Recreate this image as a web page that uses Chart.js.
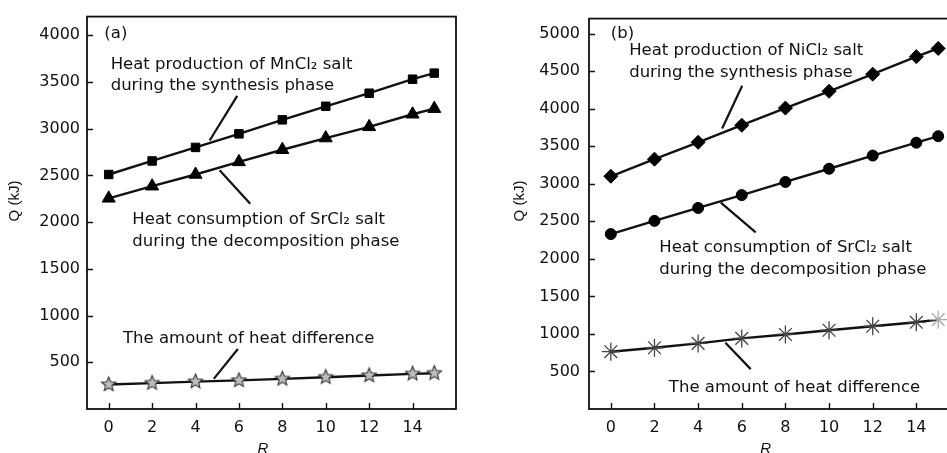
<!DOCTYPE html>
<html>
<head>
<meta charset="utf-8">
<script src="https://cdn.jsdelivr.net/npm/chart.js@4.4.0/dist/chart.umd.min.js"></script>
<style>
  html, body { margin: 0; padding: 0; background: #fff; width: 947px; height: 453px; overflow: hidden; }
  #wrapA { position: absolute; left: 0; top: 0; width: 470px; height: 453px; }
  #wrapB { position: absolute; left: 477px; top: 0; width: 500px; height: 453px; }
</style>
</head>
<body>
<div id="wrapA"><canvas id="chartA" width="470" height="453"></canvas></div>
<div id="wrapB"><canvas id="chartB" width="500" height="453"></canvas></div>
<script>
// R values (x axis)
const rValues = [0, 2, 4, 6, 8, 10, 12, 14, 15];

// panel (a)
const mnCl2Heat  = [2510, 2655, 2800, 2945, 3095, 3240, 3380, 3530, 3595];
const srCl2HeatA = [2255, 2385, 2510, 2645, 2775, 2900, 3020, 3155, 3215];
const heatDiffA  = [262, 277, 293, 306, 322, 340, 358, 376, 383];

// panel (b)
const niCl2Heat  = [3100, 3328, 3552, 3780, 4008, 4232, 4460, 4693, 4802];
const srCl2HeatB = [2330, 2506, 2678, 2849, 3024, 3200, 3376, 3547, 3634];
const heatDiffB  = [763, 816, 874, 940, 993, 1049, 1102, 1155, 1190];

// tick labels
const xTickValues = [0, 2, 4, 6, 8, 10, 12, 14];
const yTicksA = [500, 1000, 1500, 2000, 2500, 3000, 3500, 4000];
const yTicksB = [500, 1000, 1500, 2000, 2500, 3000, 3500, 4000, 4500, 5000];

const textFont = '"DejaVu Sans", sans-serif';
const ink = '#111';

function pts(ys) {
    return rValues.map((r, i) => ({ x: r, y: ys[i] }));
}

// 5-point star marker
function starMarker(outer, inner) {
    const c = document.createElement('canvas');
    const s = Math.ceil(outer * 2 + 4);
    c.width = s; c.height = s;
    const g = c.getContext('2d');
    g.beginPath();
    for (let i = 0; i < 10; i++) {
        const a = -Math.PI / 2 + i * Math.PI / 5;
        const r = i % 2 ? inner : outer;
        const px = s / 2 + r * Math.cos(a), py = s / 2 + r * Math.sin(a);
        if (i === 0) g.moveTo(px, py); else g.lineTo(px, py);
    }
    g.closePath();
    g.fillStyle = '#bdbdbd';
    g.fill();
    g.strokeStyle = '#333';
    g.lineWidth = 1.1;
    g.stroke();
    return c;
}

// frame, inner ticks, notes and axis titles
function makeDecor(cfg) {
    return {
        id: 'decor',
        afterDraw(chart) {
            const { ctx, chartArea: a, scales: { x, y } } = chart;
            const px = v => x.getPixelForValue(v);
            const py = v => y.getPixelForValue(v);
            ctx.save();
            ctx.strokeStyle = ink;
            ctx.lineWidth = 1.8;
            ctx.strokeRect(a.left, a.top, a.right - a.left, a.bottom - a.top);

            ctx.lineWidth = 1.4;
            ctx.beginPath();
            cfg.yTicks.forEach(v => {
                const t = Math.round(py(v)) + 0.5;
                ctx.moveTo(a.left, t); ctx.lineTo(a.left + 6, t);
            });
            xTickValues.forEach(v => {
                const t = Math.round(px(v)) + 0.5;
                ctx.moveTo(t, a.bottom); ctx.lineTo(t, a.bottom - 6);
            });
            ctx.stroke();

            ctx.fillStyle = ink;
            ctx.textAlign = 'left';
            ctx.textBaseline = 'middle';
            ctx.font = '16.5px ' + textFont;
            cfg.notes.forEach(n => ctx.fillText(n.text, px(n.x), py(n.y)));

            ctx.lineWidth = 2.2;
            cfg.leaders.forEach(l => {
                ctx.beginPath();
                ctx.moveTo(px(l[0]), py(l[1]));
                ctx.lineTo(px(l[2]), py(l[3]));
                ctx.stroke();
            });

            // axis titles
            ctx.textAlign = 'center';
            ctx.font = 'italic 15px "Liberation Sans", Arial, sans-serif';
            ctx.fillText('R', px(7.1), 449);
            ctx.translate(cfg.titleX, 201);
            ctx.rotate(-Math.PI / 2);
            ctx.font = '15px "Liberation Sans", Arial, sans-serif';
            ctx.fillText('Q (kJ)', 0, 0);
            ctx.restore();
        }
    };
}

function buildChart(id, datasets, yMax, yTicks, axisWidth, padRight, decor) {
    return new Chart(document.getElementById(id), {
        type: 'line',
        data: { datasets: datasets },
        options: {
            responsive: false,
            animation: false,
            layout: { padding: { top: 14, right: padRight, left: 0, bottom: 0 } },
            scales: {
                x: {
                    type: 'linear',
                    min: -1,
                    max: 16,
                    grid: { display: false, drawTicks: false },
                    border: { display: false },
                    afterBuildTicks: s => { s.ticks = xTickValues.map(v => ({ value: v })); },
                    afterFit: s => { s.height = 44; },
                    ticks: {
                        color: ink, padding: 9, font: { family: textFont, size: 16 },
                        callback: v => String(v)
                    }
                },
                y: {
                    min: 0,
                    max: yMax,
                    grid: { display: false, drawTicks: false },
                    border: { display: false },
                    afterBuildTicks: s => { s.ticks = yTicks.map(v => ({ value: v })); },
                    afterFit: s => { s.width = axisWidth; },
                    ticks: {
                        color: ink, padding: axisWidth > 100 ? 9 : 7, font: { family: textFont, size: 16 },
                        callback: v => String(v)
                    }
                }
            },
            plugins: {
                legend: { display: false },
                tooltip: { enabled: false }
            }
        },
        plugins: [decor]
    });
}

function series(ys, style, radius, extra) {
    return Object.assign({
        data: pts(ys),
        borderColor: ink,
        borderWidth: 2.4,
        pointStyle: style,
        pointRadius: radius,
        pointBackgroundColor: '#000',
        pointBorderColor: '#000',
        pointBorderWidth: 1
    }, extra || {});
}

const starImg = starMarker(7.5, 3.4);

// Panel (a)
buildChart('chartA', [
    series(mnCl2Heat, 'rect', 6),
    series(srCl2HeatA, 'triangle', 7.5),
    series(heatDiffA, starImg, 8)
], 4200, yTicksA, 87, 14, makeDecor({
    yTicks: yTicksA,
    titleX: 15,
    notes: [
        { text: '(a)', x: -0.2, y: 4020 },
        { text: 'Heat production of MnCl\u2082 salt', x: 0.09, y: 3684 },
        { text: 'during the synthesis phase', x: 0.09, y: 3461 },
        { text: 'Heat consumption of SrCl\u2082 salt', x: 1.09, y: 2023 },
        { text: 'during the decomposition phase', x: 1.09, y: 1793 },
        { text: 'The amount of heat difference', x: 0.66, y: 748 }
    ],
    leaders: [
        [5.92, 3352, 4.65, 2874],
        [5.11, 2555, 6.52, 2197],
        [5.95, 642, 4.84, 323]
    ]
}));

// Panel (b)
buildChart('chartB', [
    series(niCl2Heat, 'rectRot', 7),
    series(srCl2HeatB, 'circle', 5.5),
    series(heatDiffB, 'star', 9, {
        pointBackgroundColor: 'rgba(0,0,0,0)',
        pointBorderColor: ['#444', '#444', '#444', '#444', '#444', '#444', '#444', '#444', '#aaa'],
        pointBorderWidth: 1.3
    })
], 5200, yTicksB, 112, 17, makeDecor({
    yTicks: yTicksB,
    titleX: 43,
    notes: [
        { text: '(b)', x: 0, y: 4996 },
        { text: 'Heat production of NiCl\u2082 salt', x: 0.84, y: 4767 },
        { text: 'during the synthesis phase', x: 0.84, y: 4473 },
        { text: 'Heat consumption of SrCl\u2082 salt', x: 2.22, y: 2146 },
        { text: 'during the decomposition phase', x: 2.22, y: 1856 },
        { text: 'The amount of heat difference', x: 2.66, y: 288 }
    ],
    leaders: [
        [6.02, 4306, 5.10, 3736],
        [5.04, 2748, 6.64, 2352],
        [5.25, 881, 6.41, 531]
    ]
}));
</script>
</body>
</html>
